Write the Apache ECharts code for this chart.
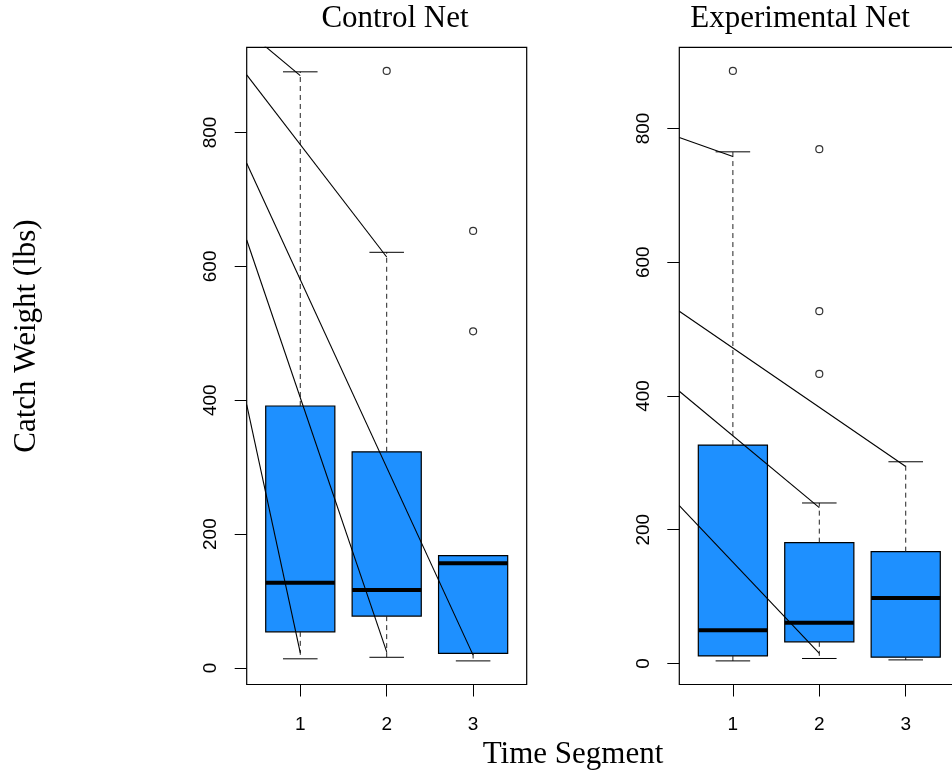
<!DOCTYPE html>
<html>
<head>
<meta charset="utf-8">
<script src="https://cdn.jsdelivr.net/npm/echarts@6/dist/echarts.min.js"></script>
<style>
  html, body { margin: 0; padding: 0; background: #fff; }
  #chart { width: 952px; height: 776px; }
</style>
</head>
<body>
<div id="chart"></div>
<script>
// Time segments along the x axis
const segmentLabels = ['1', '2', '3'];
const segmentPos = [1, 2, 3];
const yTicks = [0, 200, 400, 600, 800];

// Box summaries per segment: [lower whisker, Q1, median, Q3, upper whisker]
const controlStats = [
  [13.7, 54.0, 127.4, 391.4, 890.6],
  [16.0, 77.5, 116.5, 323.0, 621.0],
  [10.6, 21.7, 156.4, 168.0, 168.0]
];
const controlOutliers = [[2, 892], [3, 653], [3, 503]];
// Straight segments overlaid on the panel: [[x0, y0], [x1, y1]]
const controlLines = [
  [[0.38, 951.8], [1, 884.9]],
  [[0.38, 886.0], [2, 614.0]],
  [[0.38, 754.0], [3, 19.2]],
  [[0.38, 639.4], [2, 24.1]],
  [[0.38, 393.4], [1, 22.6]]
];

const experimentalStats = [
  [3.9, 11.4, 49.9, 326.6, 765.0],
  [7.5, 32.4, 60.8, 180.7, 240.0],
  [5.4, 9.4, 97.8, 167.2, 301.6]
];
const experimentalOutliers = [[1, 886], [2, 769], [2, 526.7], [2, 433]];
const experimentalLines = [
  [[0.38, 786.5], [1, 758.0]],
  [[0.38, 526.7], [3, 294.5]],
  [[0.38, 407.0], [2, 233.0]],
  [[0.38, 236.0], [2, 15.0]]
];

// y limits padded by 4% of the data range, the way base graphics does it
function paddedRange(stats, outliers) {
  const vals = [];
  stats.forEach(s => vals.push(...s));
  outliers.forEach(o => vals.push(o[1]));
  const lo = Math.min(...vals), hi = Math.max(...vals);
  const pad = 0.04 * (hi - lo);
  return [lo - pad, hi + pad];
}
const xPad = 0.04 * 3;
const xRange = [0.5 - xPad, 3.5 + xPad];

const BOX_FILL = '#1E90FF';
const SANS = '"Liberation Sans", Arial, sans-serif';
const SERIF = '"Liberation Serif", "Times New Roman", serif';

function renderBox(params, api) {
  const x = api.value(0);
  const pLow = api.coord([x, api.value(1)]);
  const pQ1 = api.coord([x, api.value(2)]);
  const pMed = api.coord([x, api.value(3)]);
  const pQ3 = api.coord([x, api.value(4)]);
  const pHigh = api.coord([x, api.value(5)]);
  const half = api.size([0.4, 0])[0];
  const capHalf = api.size([0.2, 0])[0];
  const cx = pMed[0];
  const thin = { stroke: '#000', lineWidth: 1 };
  return {
    type: 'group',
    children: [
      { type: 'rect',
        shape: { x: cx - half, y: pQ3[1], width: 2 * half, height: pQ1[1] - pQ3[1] },
        style: { fill: BOX_FILL, stroke: '#000', lineWidth: 1.2 } },
      { type: 'line',
        shape: { x1: cx - half, y1: pMed[1], x2: cx + half, y2: pMed[1] },
        style: { stroke: '#000', lineWidth: 4 } },
      { type: 'line',
        shape: { x1: cx, y1: pQ3[1], x2: cx, y2: pHigh[1] },
        style: { stroke: '#222', lineWidth: 1, lineDash: [5, 4] } },
      { type: 'line',
        shape: { x1: cx, y1: pQ1[1], x2: cx, y2: pLow[1] },
        style: { stroke: '#222', lineWidth: 1, lineDash: [5, 4] } },
      { type: 'line',
        shape: { x1: cx - capHalf, y1: pHigh[1], x2: cx + capHalf, y2: pHigh[1] },
        style: thin },
      { type: 'line',
        shape: { x1: cx - capHalf, y1: pLow[1], x2: cx + capHalf, y2: pLow[1] },
        style: thin }
    ]
  };
}

function xAxisFor(gridIndex) {
  return {
    type: 'value', gridIndex, min: xRange[0], max: xRange[1], position: 'bottom',
    splitLine: { show: false },
    axisLine: { show: false, onZero: false },
    axisTick: { show: true, inside: false, length: 12, customValues: segmentPos,
                lineStyle: { color: '#000', width: 1 } },
    axisLabel: { customValues: segmentPos, margin: 31, fontFamily: SANS, fontSize: 19, color: '#000',
                 formatter: v => segmentLabels[segmentPos.indexOf(Math.round(v))] || '' }
  };
}
function yAxisFor(gridIndex, range) {
  return {
    type: 'value', gridIndex, min: range[0], max: range[1], position: 'left',
    splitLine: { show: false },
    axisLine: { show: false, onZero: false },
    axisTick: { show: true, inside: false, length: 12, customValues: yTicks,
                lineStyle: { color: '#000', width: 1 } },
    axisLabel: { customValues: yTicks, rotate: 90, margin: 26, fontFamily: SANS, fontSize: 19, color: '#000' }
  };
}

function panelSeries(idx, stats, outliers, lines) {
  const out = [];
  out.push({
    type: 'custom', xAxisIndex: idx, yAxisIndex: idx,
    renderItem: renderBox,
    data: stats.map((s, i) => [segmentPos[i]].concat(s)),
    silent: true, animation: false, z: 2
  });
  out.push({
    type: 'scatter', xAxisIndex: idx, yAxisIndex: idx,
    data: outliers,
    symbol: 'circle', symbolSize: 7,
    itemStyle: { color: 'rgba(0,0,0,0)', borderColor: '#000', borderWidth: 1.2 },
    silent: true, animation: false, z: 3
  });
  lines.forEach(seg => {
    out.push({
      type: 'line', xAxisIndex: idx, yAxisIndex: idx,
      data: seg, showSymbol: false, symbol: 'none', clip: true,
      lineStyle: { color: '#000', width: 1.1 },
      silent: true, animation: false, z: 4
    });
  });
  return out;
}

const chart = echarts.init(document.getElementById('chart'));
const gridTop = 47.3, gridHeight = 637.2, gridWidth = 280;

chart.setOption({
  backgroundColor: '#fff',
  animation: false,
  grid: [
    { left: 246.7, top: gridTop, width: gridWidth, height: gridHeight,
      outerBoundsMode: 'none', containLabel: false,
      show: true, borderColor: '#000', borderWidth: 1.2, backgroundColor: 'transparent' },
    { left: 679.3, top: gridTop, width: gridWidth, height: gridHeight,
      outerBoundsMode: 'none', containLabel: false,
      show: true, borderColor: '#000', borderWidth: 1.2, backgroundColor: 'transparent' }
  ],
  xAxis: [xAxisFor(0), xAxisFor(1)],
  yAxis: [
    yAxisFor(0, paddedRange(controlStats, controlOutliers)),
    yAxisFor(1, paddedRange(experimentalStats, experimentalOutliers))
  ],
  series: [
    ...panelSeries(0, controlStats, controlOutliers, controlLines),
    ...panelSeries(1, experimentalStats, experimentalOutliers, experimentalLines)
  ],
  graphic: [
    { type: 'text', x: 395, y: 19,
      style: { text: 'Control Net', fontFamily: SERIF, fontSize: 31, fill: '#000',
               align: 'center', verticalAlign: 'middle' } },
    { type: 'text', x: 800, y: 19,
      style: { text: 'Experimental Net', fontFamily: SERIF, fontSize: 31, fill: '#000',
               align: 'center', verticalAlign: 'middle' } },
    { type: 'text', x: 573, y: 755,
      style: { text: 'Time Segment', fontFamily: SERIF, fontSize: 31, fill: '#000',
               align: 'center', verticalAlign: 'middle' } },
    { type: 'text', x: 27, y: 336, rotation: Math.PI / 2,
      style: { text: 'Catch Weight (lbs)', fontFamily: SERIF, fontSize: 31, fill: '#000',
               align: 'center', verticalAlign: 'middle' } }
  ]
});
</script>
</body>
</html>
